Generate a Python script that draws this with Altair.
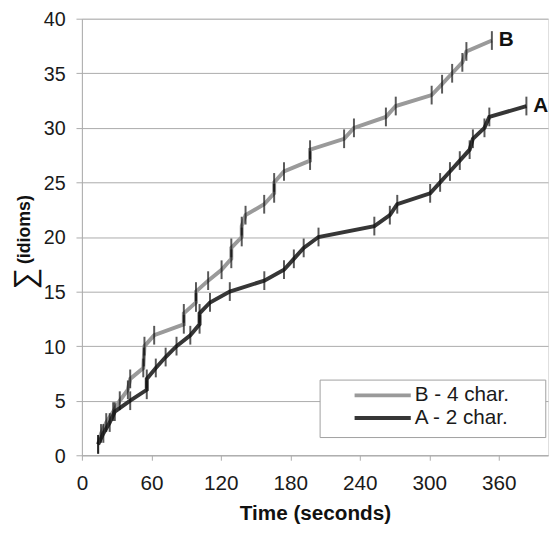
import altair as alt
import pandas as pd

# ---- data ----
b_time = [14, 16.5, 21, 27, 32.7, 39.7, 41.7, 53, 53.5, 54, 62.4, 88, 88, 98.5, 98.5,
          109, 120.6, 129, 129, 138, 138, 141.3, 157.4, 166, 166, 174.5, 197, 197,
          226.4, 234.9, 262.5, 271, 302, 311, 319.7, 328.5, 332, 354]
b_count = [1, 2, 3, 4, 5, 6, 7, 8, 9, 10, 11, 12, 13, 14, 15, 16, 17, 18, 19, 20, 21,
           22, 23, 24, 25, 26, 27, 28, 29, 30, 31, 32, 33, 34, 35, 36, 37, 38]
a_time = [14, 18.5, 24, 28.4, 41.7, 56, 56, 63.8, 72.3, 81.7, 93.6, 101.6, 101.6,
          110.6, 127.7, 157.5, 174.5, 183, 191.5, 204.3, 252.5, 265.9, 272.3, 300.7,
          309.3, 317.8, 326.3, 334.8, 337.6, 347.6, 351.8, 383.8]
a_count = [1, 2, 3, 4, 5, 6, 7, 8, 9, 10, 11, 12, 13, 14, 15, 16, 17, 18, 19, 20, 21,
           22, 23, 24, 25, 26, 27, 28, 29, 30, 31, 32]
series_names = ["B - 4 char.", "A - 2 char."]
series_colors = ["#9a9a9a", "#363636"]
end_labels = ["B", "A"]
x_ticks = [0, 60, 120, 180, 240, 300, 360]
y_ticks = [0, 5, 10, 15, 20, 25, 30, 35, 40]

FONT = "Liberation Sans"
GRID = "#ababab"

rows = []
for name, ts, vs in [(series_names[0], b_time, b_count), (series_names[1], a_time, a_count)]:
    for i, (t, v) in enumerate(zip(ts, vs)):
        rows.append({"series": name, "t": t, "v": v, "i": i})
df = pd.DataFrame(rows)

ends = pd.DataFrame({
    "series": series_names,
    "t": [b_time[-1], a_time[-1]],
    "v": [b_count[-1], a_count[-1]],
    "label": end_labels,
})

x_enc = alt.X("t:Q", scale=alt.Scale(domain=[0, 402.5], nice=False, zero=False),
              axis=alt.Axis(values=x_ticks, grid=False, title="Time (seconds)",
                            domainColor=GRID, tickColor=GRID, tickSize=5,
                            labelFont=FONT, labelFontSize=21, labelColor="#1a1a1a",
                            labelPadding=13, labelFlush=False,
                            titleFont=FONT, titleFontSize=21, titleFontWeight="bold",
                            titleColor="#111111", titlePadding=9))
y_enc = alt.Y("v:Q", scale=alt.Scale(domain=[0, 40], nice=False),
              axis=alt.Axis(values=y_ticks, grid=True, gridColor=GRID, title=None,
                            domainColor=GRID, tickColor=GRID, tickSize=6,
                            labelFont=FONT, labelFontSize=20, labelColor="#1a1a1a",
                            labelPadding=11, labelOffset=1))

color_enc = alt.Color("series:N",
                      scale=alt.Scale(domain=series_names, range=series_colors),
                      legend=alt.Legend(title=None, orient="none", legendX=274.7, legendY=371.7,
                                        padding=0, symbolType="stroke", symbolStrokeWidth=4,
                                        symbolSize=3249, clipHeight=21, rowPadding=1,
                                        labelOffset=2, labelFont=FONT, labelFontSize=21,
                                        labelColor="#1a1a1a"))

legend_box = alt.Chart(pd.DataFrame({"k": [0]})).mark_rect(
    fill="white", stroke="#a0a0a0", strokeWidth=1
).encode(x=alt.value(241.7), x2=alt.value(470.7), y=alt.value(366.7), y2=alt.value(425))

lines = alt.Chart(df).mark_line(strokeWidth=4).encode(
    x=x_enc, y=y_enc, color=color_enc, order="i:Q")

ticks = alt.Chart(df).mark_tick(orient="vertical", size=19, thickness=2, color="#111111").encode(
    x="t:Q", y="v:Q")

labels = alt.Chart(ends).mark_text(align="left", baseline="middle", dx=7, font=FONT,
                                   fontSize=21, fontWeight="bold", color="#111111").encode(
    x="t:Q", y="v:Q", text="label:N")

ytitle_sigma = alt.Chart(pd.DataFrame({"s": ["∑"]})).mark_text(
    angle=270, align="center", baseline="middle", font=FONT, fontSize=31, color="#111111"
).encode(x=alt.value(-57), y=alt.value(264), text="s:N")
ytitle_word = alt.Chart(pd.DataFrame({"s": ["(idioms)"]})).mark_text(
    angle=270, align="center", baseline="middle", font=FONT, fontSize=18, fontWeight="bold",
    color="#111111"
).encode(x=alt.value(-58), y=alt.value(214), text="s:N")

chart = alt.layer(legend_box, lines, ticks, labels, ytitle_sigma, ytitle_word).properties(
    width=473, height=443,
    autosize=alt.AutoSizeParams(type="none"),
    padding={"left": 75, "top": 7, "right": 3, "bottom": 75},
).configure_view(stroke="transparent").configure(font=FONT)

chart.save("out.html", embed_options={"renderer": "svg", "actions": False})
